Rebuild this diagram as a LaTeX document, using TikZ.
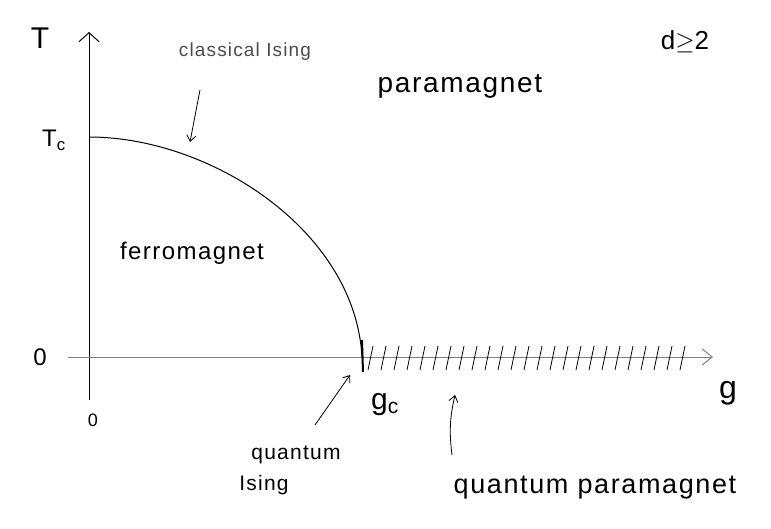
\documentclass[tikz,border=0pt]{standalone}
\usepackage{fontspec}
\setmainfont{Liberation Sans}
\usetikzlibrary{arrows.meta}
\begin{document}
\begin{tikzpicture}[x=1pt,y=-1pt,
  hand/.style={font=\fontsize{#1}{#1}\selectfont, inner sep=1pt},
  hand/.default=20,
  wide/.style={font=\fontsize{#1}{#1}\selectfont\addfontfeatures{LetterSpace=6}, inner sep=1pt},
  axisline/.style={line width=1pt},
  pointer/.style={line width=0.8pt,-{Straight Barb[length=6pt,width=9pt]}},
  hatch/.style={line width=0.8pt}]
\useasboundingbox (0,0) rectangle (771,528);
% axes
\coordinate (ybot) at (89,400);
\coordinate (ytop) at (89,32);
\coordinate (xl) at (68,357);
\coordinate (xr) at (713,357);
\coordinate (tc) at (89,137);
\coordinate (gcpt) at (362,357);
\draw[axisline,-{Straight Barb[length=9pt,width=20pt]}] (ybot) -- (ytop);
\draw[axisline,gray,-{Straight Barb[length=10pt,width=16pt]}] (xl) -- (xr);
% phase boundary
\draw[line width=1pt] (tc) .. controls (210,137) and (355,230) .. (gcpt);
% hatching
\foreach \x in {368,381,...,680} {
  \draw[hatch] (\x,370) -- (\x+5,346);
}
\draw[line width=2pt] (362,340) -- (363,372);
% labels
\node[hand=30] (T) at (40,38) {T};
\node[hand=24] (Tc) at (54,140) {T$_\mathrm{c}$};
\node[hand=24] (zeroT) at (40,357) {0};
\node[hand=18] (zerog) at (93,420) {0};
\node[hand=32] (g) at (728,393) {g};
\node[hand=30] (gc) at (385,405) {g$_\mathrm{c}$};
\node[wide=19,gray!60!black] (cls) at (245,52) {classical Ising};
\node[wide=28] (para) at (460,86) {paramagnet};
\node[hand=26] (dim) at (685,42) {d$\geq$2};
\node[wide=24] (ferro) at (192,253) {ferromagnet};
\node[wide=21] (qu) at (296,455) {quantum};
\node[wide=21] (is) at (264,485) {Ising};
\node[wide=27] (qp) at (595,488) {quantum paramagnet};
% pointers
\coordinate (clsA) at (200,90);
\coordinate (clsB) at (190,142);
\draw[pointer] (clsA) -- (clsB);
\coordinate (qiA) at (315,425);
\coordinate (qiB) at (350,375);
\draw[pointer] (qiA) -- (qiB);
\coordinate (qpA) at (452,455);
\coordinate (qpB) at (455,395);
\draw[pointer] (qpA) to[bend left=10] (qpB);
\end{tikzpicture}
\end{document}
